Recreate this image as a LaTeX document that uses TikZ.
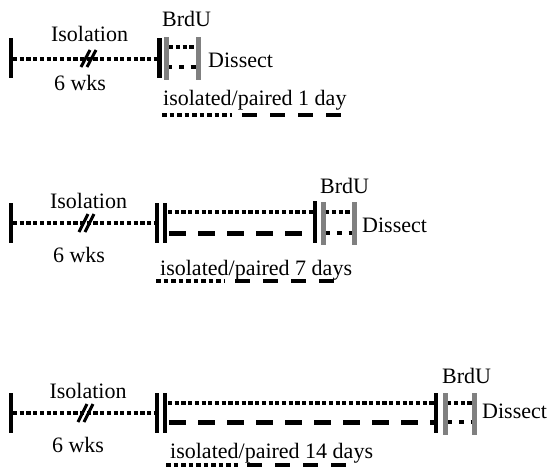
\documentclass[tikz,border=0pt]{standalone}
\usepackage{fontspec}
\setmainfont{Liberation Serif}
\begin{document}
\begin{tikzpicture}[x=1pt,y=-1pt,
  lbl/.style={inner sep=0pt, font=\fontsize{22}{24}\selectfont},
  tickbar/.style={line width=4.5pt},
  graybar/.style={line width=5pt, draw=gray},
  isodot/.style={line width=4.5pt, dash pattern=on 4.2pt off 2.5pt},
  shortdot/.style={line width=4.5pt, dash pattern=on 4.2pt off 2.6pt},
  sparsedot/.style={line width=4.5pt, dash pattern=on 5pt off 6.8pt},
  longdash/.style={line width=5pt, dash pattern=on 17pt off 12pt},
  keydot/.style={line width=4.5pt, dash pattern=on 4.7pt off 2.8pt},
  keydash/.style={line width=4.5pt, dash pattern=on 15pt off 13pt},
  slashmark/.style={line width=3pt}]
\useasboundingbox (0,0) rectangle (552,474);

% ---------------- 1 day ----------------
\coordinate (a0t) at (11,38);   \coordinate (a0b) at (11,78);
\coordinate (a0)  at (13,59);   \coordinate (a1)  at (157.5,59);
\coordinate (a1t) at (159.5,38); \coordinate (a1b) at (159.5,78);
\coordinate (agLt) at (166.5,37); \coordinate (agLb) at (166.5,80);
\coordinate (agRt) at (198,37);   \coordinate (agRb) at (198,80);
\coordinate (auA) at (169,47); \coordinate (auB) at (197,47);
\coordinate (alA) at (167,67); \coordinate (alB) at (197,67);
\coordinate (as1a) at (81,67); \coordinate (as1b) at (90,50);
\coordinate (as2a) at (87,67); \coordinate (as2b) at (96,50);
\coordinate (akA) at (162,115); \coordinate (akB) at (232,115);
\coordinate (akC) at (242,115); \coordinate (akD) at (343,115);

\draw[isodot] (a0) -- (a1);
\draw[slashmark] (as1a) -- (as1b) (as2a) -- (as2b);
\draw[tickbar] (a0t) -- (a0b) (a1t) -- (a1b);
\draw[shortdot] (auA) -- (auB);
\draw[sparsedot] (alA) -- (alB);
\draw[graybar] (agLt) -- (agLb) (agRt) -- (agRb);
\draw[keydot] (akA) -- (akB);
\draw[keydash] (akC) -- (akD);

\node[lbl, anchor=base west] (abrdu) at (162,26.5) {BrdU};
\node[lbl, anchor=base] (aiso) at (89.5,41) {Isolation};
\node[lbl, anchor=base] (awks) at (80,90) {6 wks};
\node[lbl, anchor=base west] (adis) at (208,67) {Dissect};
\node[lbl, anchor=base west] (akey) at (163,105) {isolated/paired 1 day};

% ---------------- 7 days ----------------
\coordinate (b0t) at (11,203);  \coordinate (b0b) at (11,243);
\coordinate (b0)  at (13,223);  \coordinate (b1)  at (155,223);
\coordinate (b1t) at (157,203); \coordinate (b1b) at (157,243);
\coordinate (b2t) at (165,203); \coordinate (b2b) at (165,243);
\coordinate (buA) at (168,212); \coordinate (buB) at (313,212);
\coordinate (blA) at (169,233); \coordinate (blB) at (313,233);
\coordinate (b3t) at (315,201); \coordinate (b3b) at (315,243);
\coordinate (bgLt) at (323,202); \coordinate (bgLb) at (323,245);
\coordinate (bgRt) at (354.5,202); \coordinate (bgRb) at (354.5,245);
\coordinate (bsuA) at (325,212); \coordinate (bsuB) at (352,212);
\coordinate (bslA) at (325,233); \coordinate (bslB) at (353,233);
\coordinate (bs1a) at (79,232); \coordinate (bs1b) at (88,214);
\coordinate (bs2a) at (85,232); \coordinate (bs2b) at (94,214);
\coordinate (bkA) at (156,281); \coordinate (bkB) at (224,281);
\coordinate (bkC) at (235,281); \coordinate (bkD) at (335,281);

\draw[isodot] (b0) -- (b1);
\draw[slashmark] (bs1a) -- (bs1b) (bs2a) -- (bs2b);
\draw[tickbar] (b0t) -- (b0b) (b1t) -- (b1b) (b2t) -- (b2b) (b3t) -- (b3b);
\draw[isodot] (buA) -- (buB);
\draw[longdash] (blA) -- (blB);
\draw[shortdot] (bsuA) -- (bsuB);
\draw[sparsedot] (bslA) -- (bslB);
\draw[graybar] (bgLt) -- (bgLb) (bgRt) -- (bgRb);
\draw[keydot] (bkA) -- (bkB);
\draw[keydash] (bkC) -- (bkD);

\node[lbl, anchor=base west] (bbrdu) at (320,193.5) {BrdU};
\node[lbl, anchor=base] (biso) at (88.5,208) {Isolation};
\node[lbl, anchor=base] (bwks) at (79,262) {6 wks};
\node[lbl, anchor=base west] (bdis) at (362,232) {Dissect};
\node[lbl, anchor=base west] (bkey) at (160,275) {isolated/paired 7 days};

% ---------------- 14 days ----------------
\coordinate (c0t) at (11,393);  \coordinate (c0b) at (11,433);
\coordinate (c0)  at (13,413);  \coordinate (c1)  at (155,413);
\coordinate (c1t) at (157,393); \coordinate (c1b) at (157,433);
\coordinate (c2t) at (165,393); \coordinate (c2b) at (165,433);
\coordinate (cuA) at (168,403); \coordinate (cuB) at (434,403);
\coordinate (clA) at (169,422); \coordinate (clB) at (434,422);
\coordinate (c3t) at (436,393); \coordinate (c3b) at (436,433);
\coordinate (cgLt) at (445,393); \coordinate (cgLb) at (445,435);
\coordinate (cgRt) at (474.5,393); \coordinate (cgRb) at (474.5,435);
\coordinate (csuA) at (447,403); \coordinate (csuB) at (473,403);
\coordinate (cslA) at (447,422); \coordinate (cslB) at (473,422);
\coordinate (cs1a) at (78,422); \coordinate (cs1b) at (87,404);
\coordinate (cs2a) at (84,422); \coordinate (cs2b) at (93,404);
\coordinate (ckA) at (166,465); \coordinate (ckB) at (238,465);
\coordinate (ckC) at (247,465); \coordinate (ckD) at (347,465);

\draw[isodot] (c0) -- (c1);
\draw[slashmark] (cs1a) -- (cs1b) (cs2a) -- (cs2b);
\draw[tickbar] (c0t) -- (c0b) (c1t) -- (c1b) (c2t) -- (c2b) (c3t) -- (c3b);
\draw[isodot] (cuA) -- (cuB);
\draw[longdash] (clA) -- (clB);
\draw[shortdot] (csuA) -- (csuB);
\draw[sparsedot] (cslA) -- (cslB);
\draw[graybar] (cgLt) -- (cgLb) (cgRt) -- (cgRb);
\draw[keydot] (ckA) -- (ckB);
\draw[keydash] (ckC) -- (ckD);

\node[lbl, anchor=base west] (cbrdu) at (442,383) {BrdU};
\node[lbl, anchor=base] (ciso) at (88,398) {Isolation};
\node[lbl, anchor=base] (cwks) at (78,452) {6 wks};
\node[lbl, anchor=base west] (cdis) at (482,418) {Dissect};
\node[lbl, anchor=base west] (ckey) at (170,458) {isolated/paired 14 days};
\end{tikzpicture}
\end{document}
